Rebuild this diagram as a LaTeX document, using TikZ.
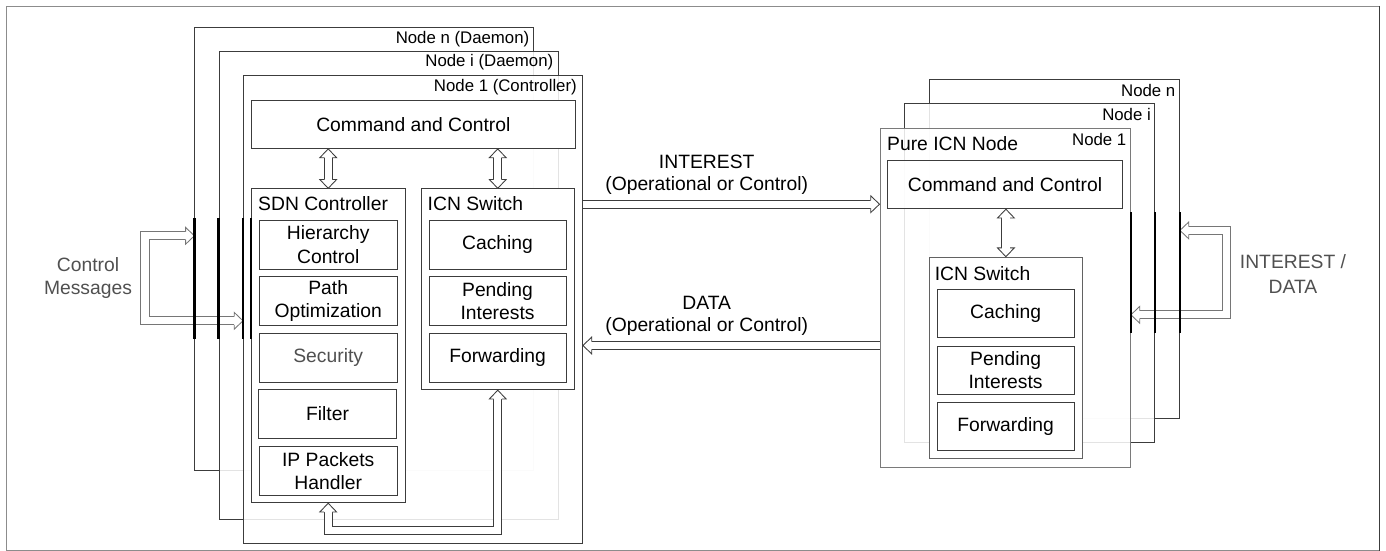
\documentclass[tikz,border=0pt]{standalone}
\usepackage{fontspec}
\setmainfont{Liberation Sans}
\usetikzlibrary{calc}

\definecolor{edge}{HTML}{3C3C3C}
\definecolor{soft}{HTML}{7A7A7A}
\definecolor{frameline}{HTML}{8C8C8C}
\definecolor{graytext}{HTML}{505050}
\definecolor{sidearrow}{HTML}{767676}

\newcommand\bigfont{\fontsize{19.3}{23.5}\selectfont}
\newcommand\lblfont{\fontsize{16.8}{20}\selectfont}

% hollow arrow head: #2 = tip, #3 = direction angle, optional #1 = colour
\newcommand\hollowtip[3][edge]{%
  \filldraw[draw=#1, fill=white, line width=0.85pt, line join=miter,
            shift={(#2)}, rotate=#3]
    (-8.8pt,4.1pt) -- (-8.8pt,8.4pt) -- (0pt,0pt) -- (-8.8pt,-8.4pt) -- (-8.8pt,-4.1pt);}

\begin{document}
\begin{tikzpicture}[x=1pt,y=-1pt,
  stack/.style={draw=edge, line width=0.9pt, fill=white, fill opacity=0.86,
                text opacity=1, inner sep=0pt, anchor=north west},
  box/.style={draw=edge, line width=0.9pt, fill=white, inner sep=0pt,
              anchor=north west, align=center, font=\bigfont},
  lbl/.style={inner sep=0pt, font=\lblfont},
  ttl/.style={inner sep=0pt, font=\bigfont, anchor=west},
  shaft/.style={draw=edge, line width=0.85pt, double=white, double distance=7.35pt,
                line join=miter},
  iface/.style={draw=black, line width=2.2pt},
]
\useasboundingbox (0,0) rectangle (1386,551);

% outer frame
\node[draw=frameline, line width=1pt, inner sep=0pt, anchor=north west,
      minimum width=1373pt, minimum height=543.5pt] (frame) at (5.5,6) {};
\draw[draw=edge, line width=1pt] (frame.north east) -- (frame.south east);

% ---------------- controller stack ----------------
\node[stack, minimum width=338.7pt, minimum height=443.3pt] (LNn) at (194.4,26.7) {};
\node[lbl, anchor=east] (LNnT) at (529.5,39) {Node n (Daemon)};
\node[stack, minimum width=339.1pt, minimum height=468pt] (LNi) at (218.5,51) {};
\node[lbl, anchor=east] (LNiT) at (553.5,62.5) {Node i (Daemon)};
\node[stack, minimum width=339pt, minimum height=468pt] (LN1) at (243,75.3) {};
\node[lbl, anchor=east] (LN1T) at (577,86.7) {Node 1 (Controller)};

\node[box, minimum width=323.8pt, minimum height=48pt] (CCL) at (251,100) {Command and Control};

\node[box, minimum width=153.5pt, minimum height=314pt] (SDN) at (251,188.3) {};
\node[ttl] (SDNT) at (258,203.3) {SDN Controller};
\node[box, minimum width=153.4pt, minimum height=201pt] (ICNL) at (420.6,188.3) {};
\node[ttl] (ICNLT) at (427.5,203.3) {ICN Switch};

\node[box, minimum width=137.5pt, minimum height=48.5pt] (hier) at (259,220)
  {Hierarchy\\Control};
\node[box, minimum width=137.5pt, minimum height=48.5pt] (path) at (259,276.3)
  {Path\\Optimization};
\node[box, minimum width=137.5pt, minimum height=48.5pt, text=graytext] (sec) at (259,333.3)
  {Security};
\node[box, minimum width=137.5pt, minimum height=48.5pt] (filt) at (258.3,389.3)
  {Filter};
\node[box, minimum width=137.5pt, minimum height=48.5pt] (iph) at (259,446.3)
  {IP Packets\\Handler};

\node[box, minimum width=137pt, minimum height=48.5pt] (cachL) at (428.6,220) {Caching};
\node[box, minimum width=137pt, minimum height=48.5pt] (pendL) at (428.6,276.3) {Pending\\Interests};
\node[box, minimum width=137pt, minimum height=48.5pt] (fwdL) at (428.6,333.3) {Forwarding};

% ---------------- pure ICN stack ----------------
\node[stack, minimum width=250.5pt, minimum height=338.4pt] (RNn) at (928.5,79.3) {};
\node[lbl, anchor=east] (RNnT) at (1175.5,90.7) {Node n};
\node[stack, minimum width=250.3pt, minimum height=338.4pt] (RNi) at (904,103.3) {};
\node[lbl, anchor=east] (RNiT) at (1151,114) {Node i};
\node[stack, draw=soft, minimum width=250.5pt, minimum height=338.4pt] (RN1) at (879.5,128.3) {};
\node[lbl, anchor=east] (RN1T) at (1126.5,139) {Node 1};
\node[ttl] (RN1P) at (887,144) {Pure ICN Node};

\node[box, fill opacity=0.86, text opacity=1, minimum width=235.1pt, minimum height=48.3pt]
  (CCR) at (887,160) {Command and Control};

\node[box, draw=soft!80!black, minimum width=153.9pt, minimum height=201.6pt] (ICNR) at (928.5,256.7) {};
\node[ttl] (ICNRT) at (934.6,273.3) {ICN Switch};
\node[box, minimum width=137.1pt, minimum height=48pt] (cachR) at (936.6,289.3) {Caching};
\node[box, minimum width=137.1pt, minimum height=48pt] (pendR) at (936.6,345.7) {Pending\\Interests};
\node[box, minimum width=137.1pt, minimum height=48pt] (fwdR) at (936.6,402.3) {Forwarding};

% ---------------- message labels ----------------
\node[inner sep=0pt, font=\bigfont, anchor=base] (intA) at (706.7,168) {INTEREST};
\node[inner sep=0pt, font=\bigfont, anchor=base] (intB) at (706.7,190) {(Operational or Control)};
\node[inner sep=0pt, font=\bigfont, anchor=base] (datA) at (706.7,309.5) {DATA};
\node[inner sep=0pt, font=\bigfont, anchor=base] (datB) at (706.7,331.5) {(Operational or Control)};

\node[inner sep=0pt, align=center, text=graytext, font=\fontsize{19.3}{23}\selectfont]
  (ctrlmsg) at (88,278) {Control\\Messages};
\node[inner sep=0pt, align=center, text=graytext, font=\fontsize{19.3}{25}\selectfont]
  (intdat) at (1293,274) {INTEREST /\\DATA};

% ---------------- connectors ----------------
\coordinate (yI) at (0,204.2);
\coordinate (yD) at (0,345.5);
\coordinate (iA) at (LN1.east |- yI);
\coordinate (iB) at (RN1.west |- yI);
\coordinate (dA) at (RN1.west |- yD);
\coordinate (dB) at (LN1.east |- yD);

% INTEREST and DATA between the two stacks
\draw[shaft, shorten >=8pt] (iA) -- (iB);
\hollowtip{iB}{0}
\draw[shaft, shorten >=8pt] (dA) -- (dB);
\hollowtip{dB}{180}

% command and control links
\coordinate (c1) at (SDN.north |- CCL.south);
\coordinate (c2) at (ICNL.north |- CCL.south);
\coordinate (c3) at (ICNR.north |- CCR.south);
\draw[shaft, shorten <=8pt, shorten >=8pt] (c1) -- (SDN.north);
\hollowtip{c1}{90}
\hollowtip{SDN.north}{-90}
\draw[shaft, shorten <=8pt, shorten >=8pt] (c2) -- (ICNL.north);
\hollowtip{c2}{90}
\hollowtip{ICNL.north}{-90}
\draw[shaft, shorten <=8pt, shorten >=8pt] (c3) -- (ICNR.north);
\hollowtip{c3}{90}
\hollowtip{ICNR.north}{-90}

% SDN controller <-> ICN switch
\coordinate (ub) at (0,530.8);
\draw[shaft, shorten <=8pt, shorten >=8pt]
  (SDN.south) -- (SDN.south |- ub) -- (ICNL.south |- ub) -- (ICNL.south);
\hollowtip{SDN.south}{90}
\hollowtip{ICNL.south}{90}

% control messages entering the controller stack
\coordinate (cyA) at (0,235.8);
\coordinate (cyB) at (0,320.8);
\coordinate (cx) at (145,0);
\coordinate (cmA) at (LNn.west |- cyA);
\coordinate (cmB) at (LN1.west |- cyB);
\draw[shaft, draw=sidearrow, shorten <=8pt, shorten >=8pt]
  (cmA) -- (cx |- cmA) -- (cx |- cmB) -- (cmB);
\hollowtip[sidearrow]{cmA}{0}
\hollowtip[sidearrow]{cmB}{0}

% interest / data entering the ICN stack
\coordinate (ryA) at (0,230.4);
\coordinate (ryB) at (0,314.8);
\coordinate (rx) at (1226.2,0);
\coordinate (rmA) at (RNn.east |- ryA);
\coordinate (rmB) at (RN1.east |- ryB);
\draw[shaft, draw=sidearrow, shorten <=8pt, shorten >=8pt]
  (rmA) -- (rx |- rmA) -- (rx |- rmB) -- (rmB);
\hollowtip[sidearrow]{rmA}{180}
\hollowtip[sidearrow]{rmB}{180}

% interfaces
\coordinate (ifT) at (0,218.3);
\coordinate (ifB) at (0,339.3);
\foreach \n in {LNn,LNi,LN1,SDN}
  \draw[iface] (\n.west |- ifT) -- (\n.west |- ifB);
\coordinate (jfT) at (0,212.3);
\coordinate (jfB) at (0,333.3);
\foreach \n in {RNn,RNi,RN1}
  \draw[iface] (\n.east |- jfT) -- (\n.east |- jfB);
\end{tikzpicture}
\end{document}
